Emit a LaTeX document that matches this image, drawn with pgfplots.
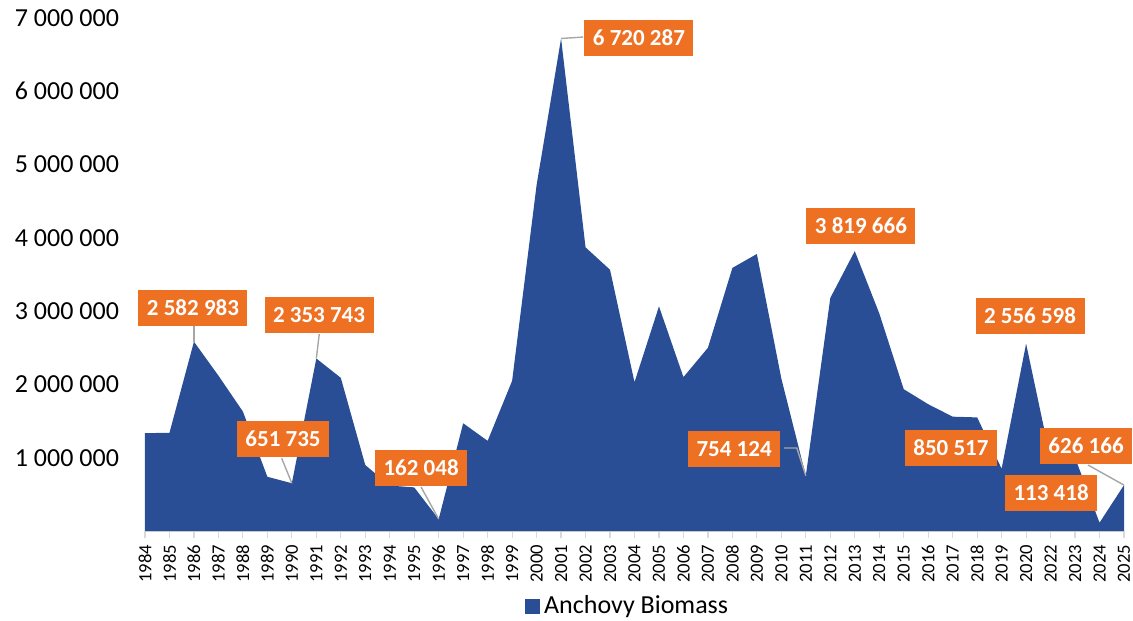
\documentclass[border=0pt]{standalone}
\usepackage{pgfplots}
\pgfplotsset{compat=1.18}
\usepackage{fontspec}
\setmainfont{Carlito}
\definecolor{areablue}{RGB}{42,78,150}
\definecolor{lblorange}{RGB}{237,112,35}
\definecolor{leadgray}{RGB}{166,166,166}
\definecolor{axgray}{RGB}{217,217,217}
\tikzset{
  lbl/.style={fill=lblorange, text=white, font=\bfseries\fontsize{11.5}{13}\selectfont,
    inner xsep=4.25pt, inner ysep=0pt, minimum height=18pt},
  lead/.style={draw=leadgray, line width=0.7pt},
}
\begin{document}
\begin{tikzpicture}
\begin{axis}[
  scale only axis, width=489.5pt, height=256.5pt,
  xmin=0, xmax=40, ymin=0, ymax=7000000,
  clip=false, scaled y ticks=false,
  axis x line*=bottom, axis y line*=left,
  y axis line style={draw=none},
  x axis line style={draw=axgray, line width=0.6pt},
  xtick={0,...,40},
  xticklabels={1984,1985,1986,1987,1988,1989,1990,1991,1992,1993,1994,1995,1996,1997,1998,1999,2000,2001,2002,2003,2004,2005,2006,2007,2008,2009,2010,2011,2012,2013,2014,2015,2016,2017,2018,2019,2020,2022,2023,2024,2025},
  x tick label style={rotate=90, anchor=east, font=\fontsize{9.3}{10}\selectfont},
  x tick style={draw=axgray, line width=0.6pt},
  tick align=outside, major tick length=3.5pt,
  ytick={1000000,2000000,3000000,4000000,5000000,6000000,7000000},
  yticklabels={1 000 000,2 000 000,3 000 000,4 000 000,5 000 000,6 000 000,7 000 000},
  y tick style={draw=none},
  y tick label style={font=\fontsize{13}{15}\selectfont, anchor=east, xshift=-6pt},
  legend style={at={(0.494,0)}, anchor=center, yshift=-37.5pt, draw=none, fill=none,
    font=\fontsize{13}{15}\selectfont},
  legend image code/.code={\fill[areablue] (0pt,-3.75pt) rectangle (7.5pt,3.75pt);},
]
\addplot[fill=areablue, draw=none] coordinates {
(0,1335000) (1,1340000) (2,2582983) (3,2120000) (4,1630000) (5,740000)
(6,651735) (7,2353743) (8,2090000) (9,900000) (10,620000) (11,595000)
(12,162048) (13,1470000) (14,1230000) (15,2050000) (16,4720000) (17,6720287)
(18,3870000) (19,3565000) (20,2030000) (21,3065000) (22,2100000) (23,2500000)
(24,3590000) (25,3780000) (26,2080000) (27,754124) (28,3180000) (29,3819666)
(30,2970000) (31,1935000) (32,1730000) (33,1560000) (34,1550000) (35,850517)
(36,2556598) (37,980000) (38,1000000) (39,113418) (40,626166)
} \closedcycle;
\addlegendentry{Anchovy Biomass}
% leader lines
\draw[lead] (axis cs:2,2582983) -- (axis cs:2,2811000);
\draw[lead] (axis cs:7,2353743) -- (axis cs:7.12,2688000);
\draw[lead] (axis cs:6,651735) -- (axis cs:5.585,992000);
\draw[lead] (axis cs:12,162048) -- (axis cs:11.28,600000);
\draw[lead] (axis cs:17,6720287) -- (axis cs:17.9,6740000);
\draw[lead] (axis cs:27,754124) -- (axis cs:26.63,1133000) -- (axis cs:26.11,1133000);
\draw[lead] (axis cs:40,626166) -- (axis cs:38.53,900000);
% labels
\node[lbl] at (axis cs:1.96,3043000) {2 582 983};
\node[lbl] at (axis cs:7.11,2947000) {2 353 743};
\node[lbl] at (axis cs:5.64,1255000) {651 735};
\node[lbl] at (axis cs:11.28,860000) {162 048};
\node[lbl] at (axis cs:20.18,6727000) {6 720 287};
\node[lbl] at (axis cs:24.07,1119000) {754 124};
\node[lbl] at (axis cs:29.25,4162000) {3 819 666};
\node[lbl] at (axis cs:36.16,2933000) {2 556 598};
\node[lbl] at (axis cs:32.93,1132000) {850 517};
\node[lbl] at (axis cs:37.02,518000) {113 418};
\node[lbl] at (axis cs:38.45,1160000) {626 166};
\coordinate (sw) at (rel axis cs:0,0);
\coordinate (ne) at (rel axis cs:1,1);
\end{axis}
\path (sw) ++(-72.5pt,-44.5pt) coordinate (bl);
\path (ne) ++(4.5pt,9pt) coordinate (tr);
\pgfresetboundingbox
\path (bl) rectangle (tr);
\end{tikzpicture}
\end{document}
